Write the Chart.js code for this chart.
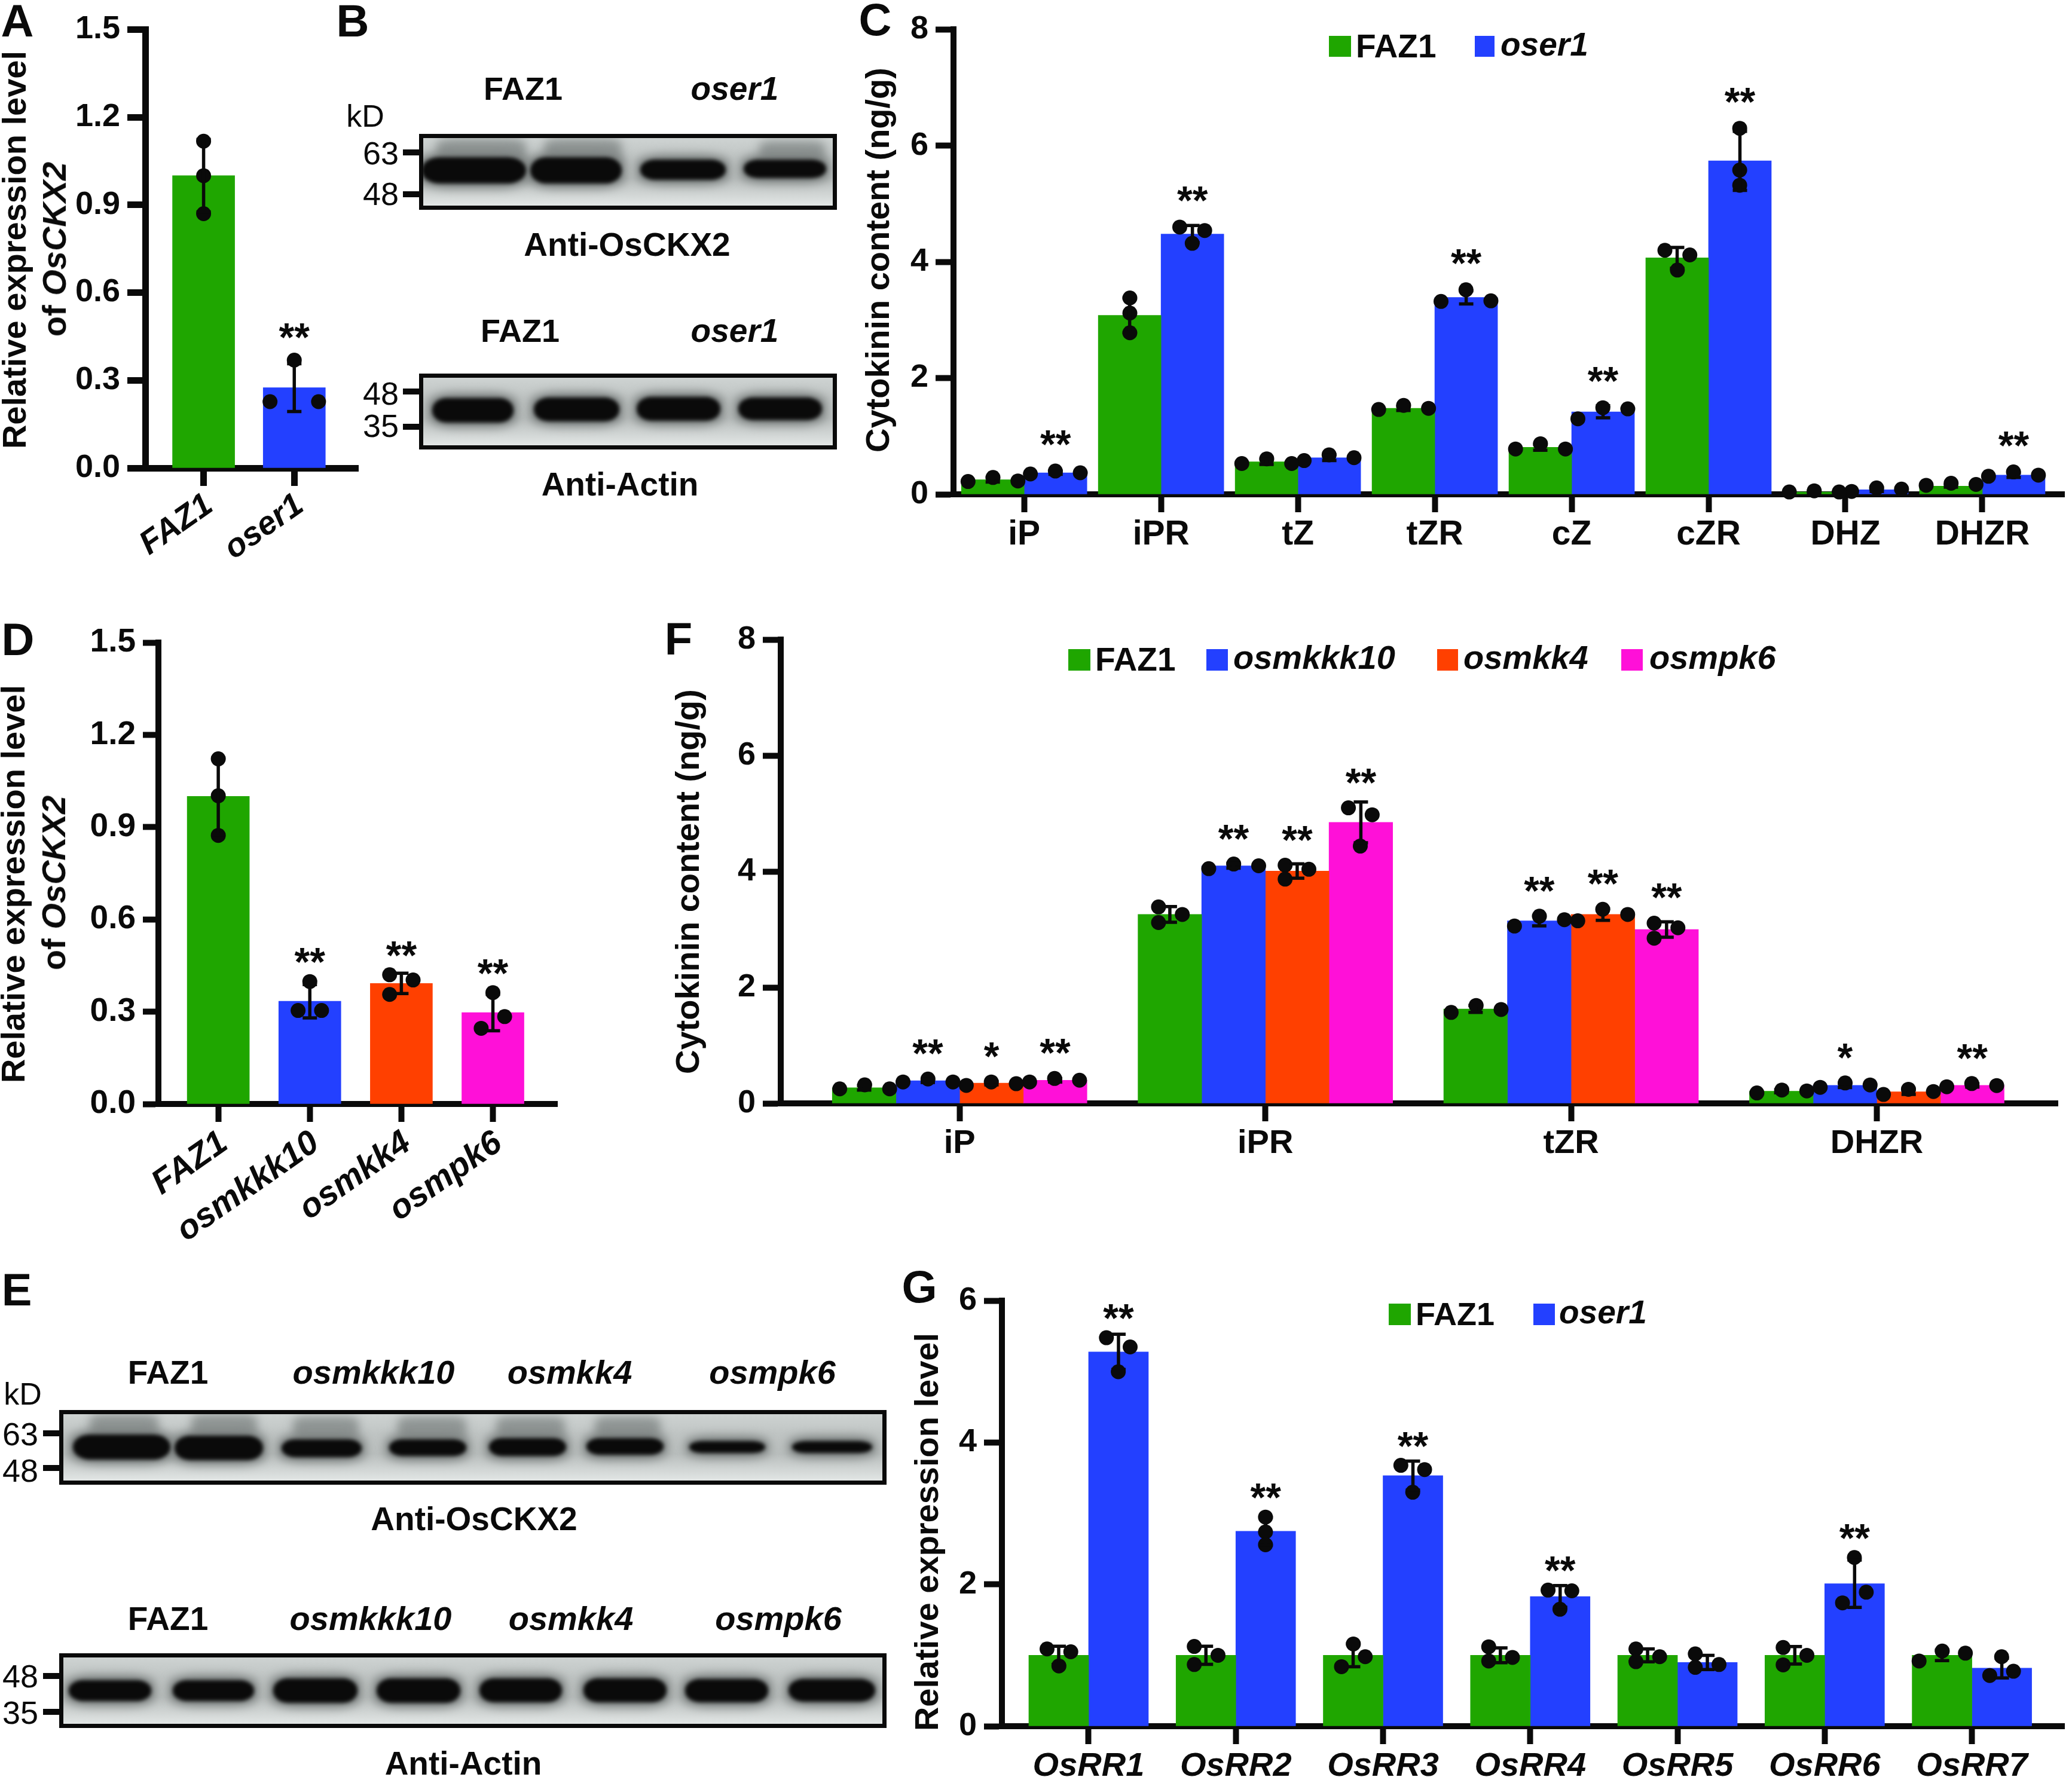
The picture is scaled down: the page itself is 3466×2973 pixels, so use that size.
<!DOCTYPE html>
<html>
<head>
<meta charset="utf-8">
<script src="https://cdn.jsdelivr.net/npm/chart.js@4"></script>
<style>
html, body { margin: 0; background: #fff; }
#page { position: relative; width: 3466px; height: 2973px; overflow: hidden; font-family: "Liberation Sans", Arial, sans-serif; color: #0a0a0a; }
#page canvas { position: absolute; }
.t { position: absolute; white-space: nowrap; line-height: 1; transform: translate(-50%, -50%); }
.box { position: absolute; }
.blot { position: absolute; box-sizing: border-box; border: 7px solid #0a0a0a; overflow: hidden; }
.blot div { position: absolute; }
</style>
</head>
<body>
<div id="page"></div>
<script>
const GREEN = '#1fa600', BLUE = '#2340ff', ORANGE = '#ff4000', PINK = '#ff10d8';
const INK = '#0a0a0a';
const FONT = '"Liberation Sans", Arial, sans-serif';

// panel A
const aCategories = ['FAZ1', 'oser1'];
const aValues = [1.0, 0.275];
const aPoints = [[1.118, 1.0, 0.87], [0.227, 0.369, 0.227]];
const aStars = ['', '**'];

// panel D
const dCategories = ['FAZ1', 'osmkkk10', 'osmkk4', 'osmpk6'];
const dValues = [1.0, 0.334, 0.392, 0.297];
const dPoints = [[1.122, 1.002, 0.873], [0.304, 0.398, 0.304], [0.42, 0.403, 0.356], [0.246, 0.284, 0.362]];
const dStars = ['', '**', '**', '**'];

// panel C
const cCategories = ['iP', 'iPR', 'tZ', 'tZR', 'cZ', 'cZR', 'DHZ', 'DHZR'];
const cFaz1 = [0.25, 3.08, 0.56, 1.48, 0.81, 4.07, 0.04, 0.14];
const cOser1 = [0.37, 4.48, 0.63, 3.39, 1.42, 5.74, 0.08, 0.33];
const cFaz1Points = [[0.22, 0.29, 0.23], [3.38, 3.12, 2.78], [0.53, 0.61, 0.53], [1.46, 1.53, 1.48],
  [0.78, 0.87, 0.78], [4.2, 4.12, 3.86], [0.04, 0.06, 0.04], [0.155, 0.19, 0.17]];
const cOser1Points = [[0.35, 0.4, 0.37], [4.6, 4.54, 4.32], [0.58, 0.68, 0.63], [3.32, 3.52, 3.33],
  [1.3, 1.49, 1.47], [6.3, 5.58, 5.32], [0.05, 0.11, 0.09], [0.31, 0.385, 0.33]];
const cOser1Stars = ['**', '**', '', '**', '**', '**', '', '**'];

// panel F
const fCategories = ['iP', 'iPR', 'tZR', 'DHZR'];
const fFaz1 = [0.27, 3.26, 1.63, 0.21];
const fKkk10 = [0.39, 4.1, 3.15, 0.31];
const fKk4 = [0.35, 4.01, 3.26, 0.2];
const fPk6 = [0.4, 4.85, 3.0, 0.31];
const fFaz1Points = [[0.25, 0.32, 0.25], [3.39, 3.26, 3.12], [1.57, 1.69, 1.62], [0.18, 0.23, 0.215]];
const fKkk10Points = [[0.37, 0.42, 0.37], [4.05, 4.13, 4.1], [3.06, 3.23, 3.17], [0.277, 0.352, 0.318]];
const fKk4Points = [[0.31, 0.37, 0.34], [4.11, 4.04, 3.87], [3.15, 3.35, 3.26], [0.154, 0.243, 0.205]];
const fPk6Points = [[0.37, 0.43, 0.4], [5.1, 4.98, 4.44], [3.11, 3.03, 2.85], [0.287, 0.342, 0.308]];
const fKkk10Stars = ['**', '**', '**', '*'];
const fKk4Stars = ['*', '**', '**', ''];
const fPk6Stars = ['**', '**', '**', '**'];

// panel G
const gCategories = ['OsRR1', 'OsRR2', 'OsRR3', 'OsRR4', 'OsRR5', 'OsRR6', 'OsRR7'];
const gFaz1 = [1, 1, 1, 1, 1, 1, 1];
const gOser1 = [5.28, 2.75, 3.535, 1.83, 0.9, 2.01, 0.82];
const gFaz1Points = [[1.09, 1.05, 0.85], [1.125, 1.0, 0.87], [0.84, 1.16, 0.98], [1.12, 0.97, 0.92],
  [1.09, 0.98, 0.91], [1.11, 1.0, 0.865], [0.92, 1.06, 1.03]];
const gOser1Points = [[5.48, 5.35, 5.0], [2.95, 2.74, 2.56], [3.68, 3.62, 3.3], [1.92, 1.91, 1.65],
  [0.83, 0.87, 1.02], [1.74, 1.89, 2.38], [0.715, 0.775, 0.98]];
const gOser1Stars = ['**', '**', '**', '**', '', '**', ''];

const page = document.getElementById('page');

function sd(p) {
    const m = p.reduce((a, b) => a + b, 0) / p.length;
    return Math.sqrt(p.reduce((a, b) => a + (b - m) * (b - m), 0) / (p.length - 1));
}

// prism style scatter of the three replicates, returns px offsets
function scatterOffsets(vals, o) {
    const s = vals.map((v, i) => ({ v, i })).sort((a, b) => a.v - b.v);
    const g1 = s[1].v - s[0].v;
    const g2 = s[2].v - s[1].v;
    const off = [0, 0, 0];
    if (g1 + g2 < o.rowMax) {
        off[0] = -o.rowStep; off[2] = o.rowStep;
    } else if (g1 < o.pairMax && g2 < o.pairMax) {
        off[s[2].i] = -o.pairStep; off[s[1].i] = o.pairStep; off[s[0].i] = -o.pairStep;
    } else if (g1 < o.pairMax || g2 < o.pairMax) {
        const a = g1 < o.pairMax ? s[0].i : s[1].i;
        const b = g1 < o.pairMax ? s[1].i : s[2].i;
        off[Math.min(a, b)] = -o.pairStep; off[Math.max(a, b)] = o.pairStep;
    }
    return off;
}

const errorBars = {
    id: 'errorBars',
    afterDatasetsDraw(chart) {
        const { ctx, scales: { x, y } } = chart;
        const cfg = chart.options.plugins.errorBars;
        ctx.save();
        ctx.strokeStyle = INK;
        ctx.fillStyle = INK;
        cfg.groups.forEach(g => {
            g.points.forEach((pts, i) => {
                const px = x.getPixelForValue(i) + g.shift;
                const v = g.values[i];
                const e = sd(pts);
                const top = y.getPixelForValue(v + e);
                const bot = y.getPixelForValue(v - e);
                ctx.lineWidth = cfg.line;
                ctx.beginPath();
                ctx.moveTo(px, top); ctx.lineTo(px, bot);
                ctx.moveTo(px - cfg.cap, top); ctx.lineTo(px + cfg.cap, top);
                ctx.moveTo(px - cfg.cap, bot); ctx.lineTo(px + cfg.cap, bot);
                ctx.stroke();
                if (g.stars[i]) {
                    ctx.font = 'bold ' + cfg.starSize + 'px ' + FONT;
                    ctx.textAlign = 'center';
                    ctx.textBaseline = 'alphabetic';
                    ctx.fillText(g.stars[i], px, y.getPixelForValue(Math.max(...pts)) - cfg.starGap);
                }
            });
        });
        ctx.restore();
    }
};

function makeChart(c) {
    const left = c.axisX - 200;
    const top = c.yTop - 40;
    const bottom = c.yZero + 230;
    const canvas = document.createElement('canvas');
    canvas.width = c.xEnd - left;
    canvas.height = bottom - top;
    canvas.style.left = left + 'px';
    canvas.style.top = top + 'px';
    page.appendChild(canvas);

    const catW = c.catGap;
    const n = c.groups.length;
    const datasets = [];
    const errGroups = [];
    c.groups.forEach((g, k) => {
        const shift = (k - (n - 1) / 2) * c.barW;
        datasets.push({
            type: 'bar',
            data: g.values.map((v, i) => ({ x: i, y: v })),
            backgroundColor: g.colors || g.color,
            barThickness: c.barW,
            borderWidth: 0,
            order: 2
        });
        errGroups.push({ values: g.values, points: g.points, stars: g.stars || [], shift });
    });
    c.groups.forEach((g, k) => {
        const shift = (k - (n - 1) / 2) * c.barW;
        const dots = [];
        g.points.forEach((pts, i) => {
            const off = scatterOffsets(pts, c);
            pts.forEach((v, j) => dots.push({ x: i + (shift + off[j]) / catW, y: v }));
        });
        datasets.push({
            type: 'scatter',
            data: dots,
            backgroundColor: INK,
            borderWidth: 0,
            pointRadius: 12.5,
            clip: false,
            order: 1
        });
    });

    new Chart(canvas, {
        type: 'bar',
        data: { datasets },
        plugins: [errorBars],
        options: {
            responsive: false,
            animation: false,
            devicePixelRatio: 1,
            layout: { padding: { top: 40, left: 0, right: 0, bottom: 0 } },
            plugins: {
                legend: { display: false },
                tooltip: { enabled: false },
                errorBars: { groups: errGroups, line: 5.5, cap: 12, starSize: 66, starGap: c.starGap }
            },
            scales: {
                x: {
                    type: 'linear',
                    z: 1,
                    min: (c.axisX - c.firstX) / catW,
                    max: (c.xEnd - c.firstX) / catW,
                    offset: false,
                    afterFit: s => { s.height = bottom - c.yZero; },
                    afterBuildTicks: s => { s.ticks = c.categories.map((t, i) => ({ value: i })); },
                    border: { color: INK, width: c.axisW },
                    grid: { drawOnChartArea: false, offset: false, color: INK, tickColor: INK, tickWidth: c.axisW, tickLength: 30 },
                    ticks: {
                        autoSkip: false,
                        minRotation: c.rotate || 0,
                        maxRotation: c.rotate || 0,
                        padding: c.xPad === undefined ? 4 : c.xPad,
                        labelOffset: c.xShift || 0,
                        color: INK,
                        font: { family: FONT, size: c.xSize, weight: 'bold', style: c.xItalic ? 'italic' : 'normal' },
                        callback: v => c.categories[v]
                    }
                },
                y: {
                    z: 1,
                    min: 0,
                    max: c.yMax,
                    afterFit: s => { s.width = 200; },
                    border: { color: INK, width: c.axisW },
                    grid: { drawOnChartArea: false, color: INK, tickColor: INK, tickWidth: c.axisW, tickLength: c.yTick || 30 },
                    ticks: {
                        stepSize: c.yStep,
                        padding: 12,
                        color: INK,
                        font: { family: FONT, size: c.ySize, weight: 'bold' },
                        callback: v => c.yDigits ? v.toFixed(c.yDigits) : v
                    }
                }
            }
        }
    });
}

function text(html, x, y, size, opt) {
    const o = opt || {};
    const el = document.createElement('div');
    el.className = 't';
    el.innerHTML = html;
    el.style.left = x + 'px';
    el.style.top = y + 'px';
    el.style.fontSize = size + 'px';
    el.style.fontWeight = o.weight || 'bold';
    if (o.italic) el.style.fontStyle = 'italic';
    if (o.rot) el.style.transform = 'translate(-50%, -50%) rotate(-90deg)';
    page.appendChild(el);
}

function rect(x0, y0, x1, y1, color) {
    const el = document.createElement('div');
    el.className = 'box';
    el.style.cssText = `left:${x0}px;top:${y0}px;width:${x1 - x0}px;height:${y1 - y0}px;background:${color}`;
    page.appendChild(el);
}

function legendItem(color, x0, x1, y0, y1, label, textX, size, italic) {
    rect(x0, y0, x1, y1, color);
    const el = document.createElement('div');
    el.className = 't';
    el.textContent = label;
    el.style.cssText = `left:${textX}px;top:${(y0 + y1) / 2 - (italic ? 4 : 1)}px;font-size:${size}px;font-weight:bold;transform:translateY(-50%);` +
        (italic ? 'font-style:italic' : '');
    page.appendChild(el);
}

function blot(x0, y0, x1, y1, bands, smears) {
    const el = document.createElement('div');
    el.className = 'blot';
    el.style.cssText = `left:${x0}px;top:${y0}px;width:${x1 - x0}px;height:${y1 - y0}px;` +
        'background:linear-gradient(180deg,#ced3d2 0%,#bfc4c3 30%,#b9bebd 60%,#e2e6e5 100%)';
    const add = (bx0, by0, bx1, by1, bg, blur, radius) => {
        const b = document.createElement('div');
        b.style.cssText = `left:${bx0 - x0 - 7}px;top:${by0 - y0 - 7}px;width:${bx1 - bx0}px;height:${by1 - by0}px;` +
            `background:${bg};filter:blur(${blur}px);border-radius:${radius}`;
        el.appendChild(b);
    };
    (smears || []).forEach(s => add(s[0], s[1], s[2], s[3], '#8f9594', 8, '20%'));
    bands.forEach(b => add(b[0] - 6, b[2] - 9, b[1] + 6, b[3] + 9, '#777c7b', 8, '30%'));
    bands.forEach(b => add(b[0], b[2] - 1, b[1], b[3] + 1, '#0a0a0a', 3, '18% / 48%'));
    page.appendChild(el);
}

function marker(x0, x1, y) { rect(x0, y - 5, x1, y + 5, INK); }

// panel A
makeChart({
    categories: aCategories, axisX: 243, yTop: 45, yZero: 783, xEnd: 612, firstX: 344, catGap: 157, barW: 104,
    yMax: 1.5, yStep: 0.3, yDigits: 1, axisW: 11, rotate: 35, xItalic: true, xSize: 55, ySize: 54, xPad: 0, xShift: 10, starGap: 16,
    rowMax: 0, pairMax: 0.05, rowStep: 42, pairStep: 42,
    groups: [{ values: aValues, points: aPoints, stars: aStars, colors: [GREEN, BLUE] }]
});
// panel D
makeChart({
    categories: dCategories, axisX: 265, yTop: 1070, yZero: 1847, xEnd: 945, firstX: 367, catGap: 156, barW: 104,
    yMax: 1.5, yStep: 0.3, yDigits: 1, axisW: 10, rotate: 35, xItalic: true, xSize: 57, ySize: 55, yTick: 26, xPad: 2, xShift: 10, starGap: 10,
    rowMax: 0, pairMax: 0.05, rowStep: 42, pairStep: 20,
    groups: [{ values: dValues, points: dPoints, stars: dStars, colors: [GREEN, BLUE, ORANGE, PINK] }]
});
// panel C
makeChart({
    categories: cCategories, axisX: 1595, yTop: 45, yZero: 827, xEnd: 3466, firstX: 1714, catGap: 230.5, barW: 105,
    yMax: 8, yStep: 2, axisW: 10, xSize: 57, ySize: 54, starGap: 22,
    rowMax: 0.21, pairMax: 0.2, rowStep: 42, pairStep: 21,
    groups: [
        { values: cFaz1, points: cFaz1Points, color: GREEN },
        { values: cOser1, points: cOser1Points, stars: cOser1Stars, color: BLUE }
    ]
});
// panel F
makeChart({
    categories: fCategories, axisX: 1306, yTop: 1066, yZero: 1846, xEnd: 3455, firstX: 1607, catGap: 514.4, barW: 106.5,
    yMax: 8, yStep: 2, axisW: 10, xSize: 56, ySize: 54, starGap: 20,
    rowMax: 0.22, pairMax: 0.21, rowStep: 42, pairStep: 20,
    groups: [
        { values: fFaz1, points: fFaz1Points, color: GREEN },
        { values: fKkk10, points: fKkk10Points, stars: fKkk10Stars, color: BLUE },
        { values: fKk4, points: fKk4Points, stars: fKk4Stars, color: ORANGE },
        { values: fPk6, points: fPk6Points, stars: fPk6Stars, color: PINK }
    ]
});
// panel G
makeChart({
    categories: gCategories, axisX: 1676, yTop: 2172, yZero: 2888, xEnd: 3466, firstX: 1822, catGap: 248, barW: 100,
    yMax: 6, yStep: 2, axisW: 10, xItalic: true, xSize: 56, ySize: 54, starGap: 10,
    rowMax: 0.15, pairMax: 0.155, rowStep: 39, pairStep: 20,
    groups: [
        { values: gFaz1, points: gFaz1Points, color: GREEN },
        { values: gOser1, points: gOser1Points, stars: gOser1Stars, color: BLUE }
    ]
});

// y titles
text('Relative expression level', 24, 418, 56, { rot: true });
text('of <i>OsCKX2</i>', 91, 417, 56, { rot: true });
text('Relative expression level', 22, 1479, 56, { rot: true });
text('of <i>OsCKX2</i>', 90, 1477, 56, { rot: true });
text('Cytokinin content (ng/g)', 1468, 435, 56, { rot: true });
text('Cytokinin content (ng/g)', 1150, 1475, 56, { rot: true });
text('Relative expression level', 1550, 2563, 56, { rot: true });

// panel letters
[['A', 29, 35], ['B', 590, 35], ['C', 1464, 33], ['D', 30, 1070], ['E', 28, 2158], ['F', 1135, 1069], ['G', 1538, 2153]]
    .forEach(p => text(p[0], p[1], p[2], 76));

// legends
legendItem(GREEN, 2223, 2260, 60, 95, 'FAZ1', 2268, 55);
legendItem(BLUE, 2467, 2500, 60, 95, 'oser1', 2510, 55, true);
legendItem(GREEN, 1787, 1824, 1086, 1122, 'FAZ1', 1832, 55);
legendItem(BLUE, 2018, 2054, 1086, 1122, 'osmkkk10', 2063, 56, true);
legendItem(ORANGE, 2404, 2439, 1086, 1122, 'osmkk4', 2448, 56, true);
legendItem(PINK, 2712, 2748, 1086, 1122, 'osmpk6', 2759, 56, true);
legendItem(GREEN, 2323, 2360, 2181, 2217, 'FAZ1', 2368, 54);
legendItem(BLUE, 2565, 2601, 2181, 2217, 'oser1', 2608, 55, true);

// panel B blots
blot(701, 224, 1400, 351, [[705, 880, 264, 306], [887, 1040, 264, 306], [1071, 1214, 268, 300], [1244, 1382, 268, 297]],
    [[730, 232, 880, 276], [910, 232, 1040, 276], [1270, 236, 1380, 276]]);
blot(701, 625, 1400, 752, [[723, 859, 667, 706], [893, 1036, 666, 704], [1065, 1205, 665, 703], [1235, 1375, 666, 702]]);
text('FAZ1', 875, 148, 54);
text('oser1', 1229, 148, 55, { italic: true });
text('kD', 611, 194, 52, { weight: 'normal' });
text('63', 637, 256, 54, { weight: 'normal' });
text('48', 637, 324, 54, { weight: 'normal' });
marker(674, 701, 255);
marker(674, 701, 325);
text('Anti-OsCKX2', 1049, 409, 55);
text('FAZ1', 870, 553, 54);
text('oser1', 1229, 553, 55, { italic: true });
text('48', 637, 658, 54, { weight: 'normal' });
text('35', 637, 712, 54, { weight: 'normal' });
marker(674, 701, 655);
marker(674, 701, 714);
text('Anti-Actin', 1037, 810, 55);

// panel E blots
blot(99, 2359, 1483, 2484, [[122, 285, 2401, 2441], [292, 440, 2403, 2442], [471, 605, 2409, 2437], [651, 780, 2409, 2435],
    [818, 947, 2407, 2435], [981, 1110, 2407, 2433], [1153, 1280, 2412, 2430], [1325, 1459, 2412, 2430]],
    [[150, 2366, 265, 2410], [320, 2366, 430, 2410], [490, 2370, 600, 2412], [665, 2370, 780, 2412], [830, 2370, 945, 2412], [995, 2370, 1105, 2412]]);
blot(99, 2766, 1483, 2891, [[115, 253, 2812, 2845], [289, 425, 2812, 2845], [457, 598, 2809, 2848], [630, 770, 2809, 2848],
    [802, 940, 2809, 2847], [976, 1115, 2809, 2847], [1146, 1285, 2810, 2847], [1319, 1464, 2810, 2846]]);
text('FAZ1', 281, 2296, 55);
text('osmkkk10', 625, 2296, 56, { italic: true });
text('osmkk4', 953, 2296, 56, { italic: true });
text('osmpk6', 1292, 2296, 56, { italic: true });
text('kD', 38, 2332, 52, { weight: 'normal' });
text('63', 34, 2399, 54, { weight: 'normal' });
text('48', 34, 2460, 54, { weight: 'normal' });
marker(72, 99, 2398);
marker(72, 99, 2456);
text('Anti-OsCKX2', 793, 2541, 55);
text('FAZ1', 281, 2708, 55);
text('osmkkk10', 620, 2708, 56, { italic: true });
text('osmkk4', 955, 2708, 56, { italic: true });
text('osmpk6', 1302, 2708, 56, { italic: true });
text('48', 34, 2804, 54, { weight: 'normal' });
text('35', 34, 2865, 54, { weight: 'normal' });
marker(72, 99, 2804);
marker(72, 99, 2864);
text('Anti-Actin', 775, 2950, 55);
</script>
</body>
</html>
